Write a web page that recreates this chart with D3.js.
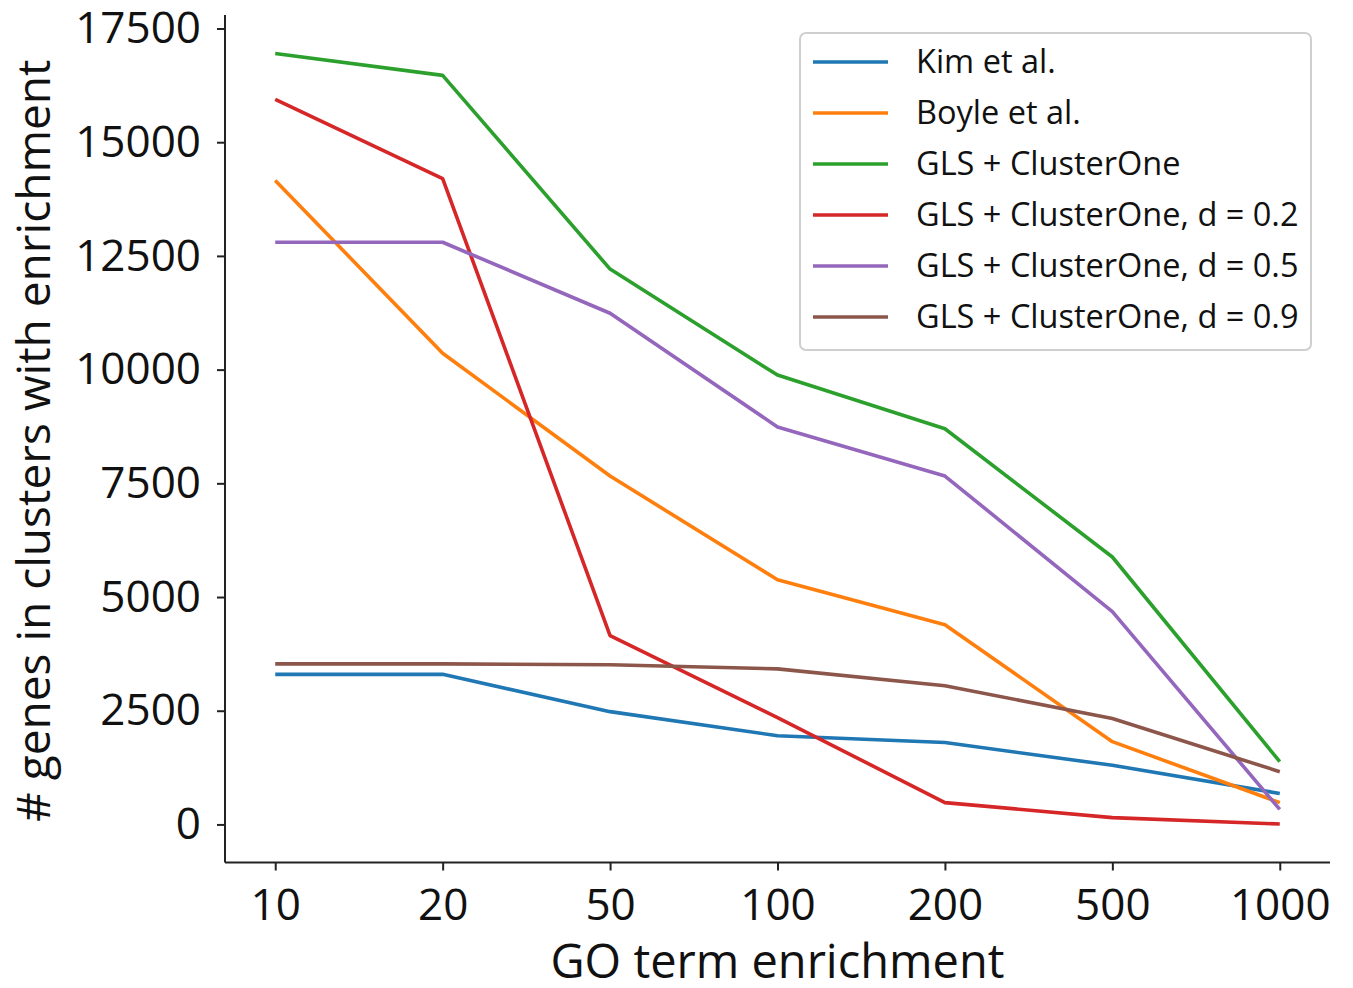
<!DOCTYPE html>
<html>
<head>
<meta charset="utf-8">
<script src="https://cdn.jsdelivr.net/npm/d3@7"></script>
<style>
  body { margin: 0; background: #fff; }
  text { font-family: "Open Sans", "Liberation Sans", sans-serif; fill: #111; }
</style>
</head>
<body>
<div id="chart"></div>
<script>
// categories on the x axis
const goTerms = ["10", "20", "50", "100", "200", "500", "1000"];

// values per series
const kim      = [3300, 3300, 2480, 1950, 1800, 1300, 680];
const boyle    = [14160, 10360, 7660, 5380, 4390, 1820, 480];
const gls      = [16950, 16470, 12210, 9880, 8700, 5880, 1380];
const glsD02   = [15940, 14200, 4150, 2350, 480, 150, 10];
const glsD05   = [12800, 12800, 11240, 8740, 7660, 4680, 330];
const glsD09   = [3530, 3530, 3510, 3420, 3050, 2330, 1160];

const seriesNames = ["Kim et al.", "Boyle et al.", "GLS + ClusterOne",
  "GLS + ClusterOne, d = 0.2", "GLS + ClusterOne, d = 0.5", "GLS + ClusterOne, d = 0.9"];
const seriesValues = [kim, boyle, gls, glsD02, glsD05, glsD09];
const colors = ["#1f77b4", "#ff7f0e", "#2ca02c", "#d62728", "#9467bd", "#8c564b"];

const yTicks = [0, 2500, 5000, 7500, 10000, 12500, 15000, 17500];

const W = 1353, H = 988;
const plot = { left: 225, right: 1330, top: 15, bottom: 862.5 };

const svg = d3.select("#chart").append("svg")
    .attr("width", W)
    .attr("height", H);

// x: evenly spaced categories, 5% margin like matplotlib
const x = d3.scalePoint()
    .domain(goTerms)
    .range([plot.left, plot.right])
    .padding(0.3);

// y: data extent with 5% margins
const allVals = seriesValues.flat();
const yMin = d3.min(allVals), yMax = d3.max(allVals);
const pad = (yMax - yMin) * 0.05;
const y = d3.scaleLinear()
    .domain([yMin - pad, yMax + pad])
    .range([plot.bottom, plot.top]);

// lines
const line = d3.line()
    .x((d, i) => x(goTerms[i]))
    .y(d => y(d));

svg.append("g")
  .selectAll("path")
  .data(seriesValues)
  .join("path")
    .attr("fill", "none")
    .attr("stroke", (d, i) => colors[i])
    .attr("stroke-width", 3.6)
    .attr("stroke-linejoin", "round")
    .attr("d", line);

// axes
const xAxis = svg.append("g")
    .attr("transform", `translate(0,${plot.bottom})`)
    .call(d3.axisBottom(x).tickSize(8).tickPadding(18).tickSizeOuter(0));

const yAxis = svg.append("g")
    .attr("transform", `translate(${plot.left},0)`)
    .call(d3.axisLeft(y).tickValues(yTicks).tickFormat(d3.format("d"))
      .tickSize(8).tickPadding(16).tickSizeOuter(0));

[xAxis, yAxis].forEach(g => {
  g.select(".domain").attr("stroke", "#222").attr("stroke-width", 2);
  g.selectAll(".tick line").attr("stroke", "#222").attr("stroke-width", 2);
  g.selectAll(".tick text")
    .attr("fill", "#111")
    .style("font-family", '"Open Sans", sans-serif')
    .style("font-size", "44px");
});
// axis lines only over the plotted extent
yAxis.select(".domain").attr("d", `M0,${plot.top}V${plot.bottom}`);
xAxis.select(".domain").attr("d", `M${plot.left},0H${plot.right}`);
xAxis.selectAll(".tick text").attr("dy", "0.71em");

// axis titles
svg.append("text")
    .attr("x", (plot.left + plot.right) / 2)
    .attr("y", 978)
    .attr("text-anchor", "middle")
    .style("font-size", "47px")
    .text("GO term enrichment");

svg.append("text")
    .attr("transform", `translate(50,${(plot.top + plot.bottom) / 2 + 2}) rotate(-90)`)
    .attr("text-anchor", "middle")
    .style("font-size", "46px")
    .text("# genes in clusters with enrichment");

// legend
const legend = svg.append("g").attr("transform", "translate(800,33)");
legend.append("rect")
    .attr("width", 511)
    .attr("height", 317)
    .attr("rx", 6)
    .attr("fill", "#fff")
    .attr("fill-opacity", 0.85)
    .attr("stroke", "#cfcfcf")
    .attr("stroke-width", 2);

const rows = legend.selectAll("g.row")
  .data(seriesNames)
  .join("g")
    .attr("class", "row")
    .attr("transform", (d, i) => `translate(0,${29 + i * 51})`);

rows.append("line")
    .attr("x1", 13).attr("x2", 88)
    .attr("stroke", (d, i) => colors[i])
    .attr("stroke-width", 3.6);

rows.append("text")
    .attr("x", 116)
    .attr("dy", "0.35em")
    .style("font-size", "32.5px")
    .text(d => d);
</script>
</body>
</html>
